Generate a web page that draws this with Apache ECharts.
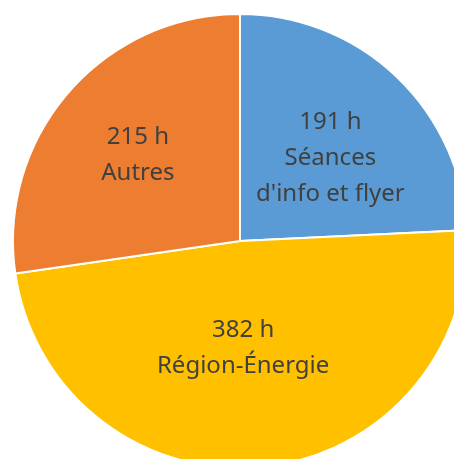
<!DOCTYPE html>
<html>
<head>
<meta charset="utf-8">
<script src="https://cdn.jsdelivr.net/npm/echarts@6/dist/echarts.min.js"></script>
<style>
  html, body { margin: 0; padding: 0; background: #fff; }
  #chart { width: 454px; height: 459px; }
</style>
</head>
<body>
<div id="chart"></div>
<script>
// categories and hours, in drawing order (clockwise from 12 o'clock)
var categories = ["Séances\nd'info et flyer", 'Région-Énergie', 'Autres'];
var hours = [191, 382, 215];
var colors = ['#5B9BD5', '#FFC000', '#ED7D31'];
// nudges so labels sit where the original put them
var labelShift = [[10, 1], [-8, -9], [-14, -10]];

var chart = echarts.init(document.getElementById('chart'), null, { renderer: 'canvas' });

chart.setOption({
  animation: false,
  series: [{
    type: 'pie',
    center: [240, 241],
    radius: 227,
    startAngle: 90,
    clockwise: true,
    data: categories.map(function (c, i) {
      return { name: c, value: hours[i], itemStyle: { color: colors[i] } };
    }),
    itemStyle: { borderColor: '#fff', borderWidth: 2 },
    label: {
      show: true,
      position: 'inside',
      formatter: function (p) { return p.value + ' h\n' + p.name; },
      color: '#404040',
      fontFamily: 'Noto Sans',
      fontSize: 24,
      lineHeight: 36,
      align: 'center'
    },
    labelLayout: function (p) {
      var s = labelShift[p.dataIndex];
      return { dx: s[0], dy: s[1] };
    },
    emphasis: { disabled: true }
  }]
});
</script>
</body>
</html>
